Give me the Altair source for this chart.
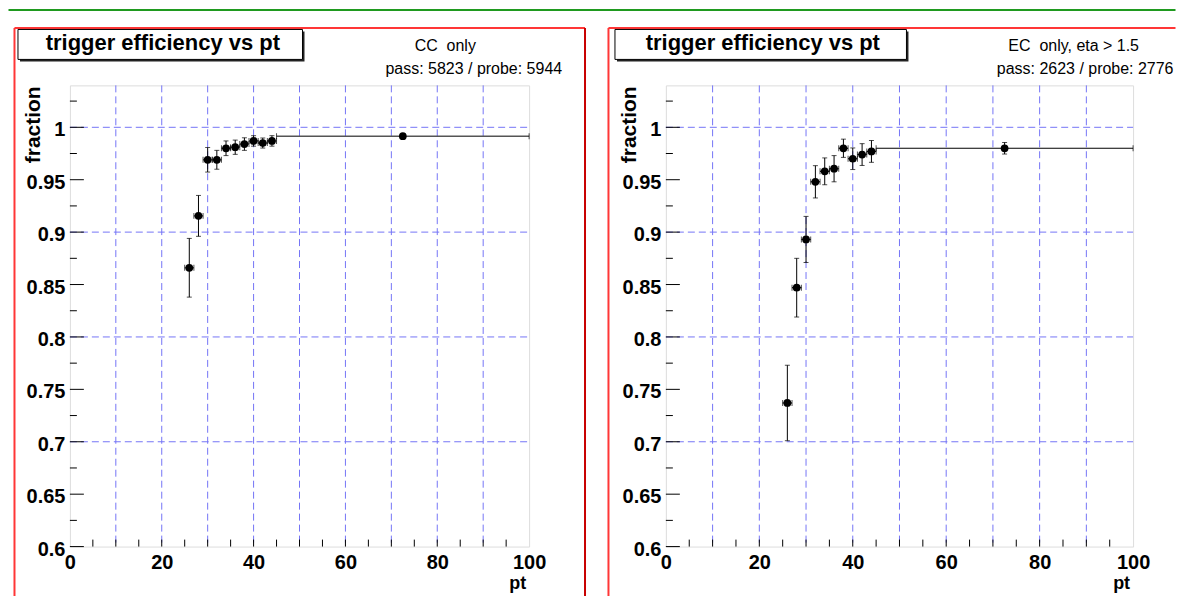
import altair as alt
import pandas as pd

# ---------------- data ----------------
pt_center = [26, 28, 30, 32, 34, 36, 38, 40, 42, 44, 72.5]
pt_low = [25, 27, 29, 31, 33, 35, 37, 39, 41, 43, 45]
pt_high = [27, 29, 31, 33, 35, 37, 39, 41, 43, 45, 100]

cc_eff = [0.866, 0.9155, 0.969, 0.969, 0.980, 0.981, 0.984, 0.987, 0.985, 0.987, 0.9915]
cc_err = [0.028, 0.0195, 0.0117, 0.009, 0.007, 0.0068, 0.006, 0.005, 0.0048, 0.005, 0.0015]

ec_eff = [0.737, 0.847, 0.893, 0.948, 0.958, 0.9605, 0.980, 0.970, 0.974, 0.977, 0.980]
ec_err = [0.036, 0.028, 0.022, 0.0154, 0.0128, 0.0125, 0.0087, 0.0103, 0.0104, 0.0104, 0.0055]

x_labels = [0, 20, 40, 60, 80, 100]
y_labels = [0.6, 0.65, 0.7, 0.75, 0.8, 0.85, 0.9, 0.95, 1.0]
y_minor = [0.625, 0.675, 0.725, 0.775, 0.825, 0.875, 0.925, 0.975, 1.025]
x_ticks = [5, 10, 15, 20, 25, 30, 35, 40, 45, 50, 55, 60, 65, 70, 75, 80, 85, 90, 95]
x_grid = [10, 20, 30, 40, 50, 60, 70, 80, 90]
y_grid = [0.7, 0.8, 0.9, 1.0]

titles = ["trigger efficiency vs pt", "trigger efficiency vs pt"]
notes = ["CC\u00a0 only", "EC\u00a0 only, eta > 1.5"]
counts = ["pass: 5823 / probe: 5944", "pass: 2623 / probe: 2776"]

FONT = "Liberation Sans"
GRID = "#7474f6"
one = pd.DataFrame({"k": [0]})


def deco_rule(x1, x2, y1, y2, color, width):
    return alt.Chart(one).mark_rule(color=color, strokeWidth=width).encode(
        x=alt.value(x1), x2=alt.value(x2), y=alt.value(y1), y2=alt.value(y2))


def deco_rect(x1, x2, y1, y2, **kw):
    return alt.Chart(one).mark_rect(**kw).encode(
        x=alt.value(x1), x2=alt.value(x2), y=alt.value(y1), y2=alt.value(y2))


def deco_text(txt, x, y, **kw):
    return alt.Chart(one).mark_text(text=txt, font=FONT, color="black", baseline="alphabetic", **kw).encode(
        x=alt.value(x), y=alt.value(y))


def panel(i, eff, err, W, H, g, bin_color, bin_width, extra=None):
    df = pd.DataFrame({
        "pt": pt_center, "lo": pt_low, "hi": pt_high, "eff": eff,
        "elo": [a - b for a, b in zip(eff, err)],
        "ehi": [a + b for a, b in zip(eff, err)],
    })
    xs = alt.Scale(domain=[0, 100], nice=False, zero=False)
    ys = alt.Scale(domain=[0.6, 1.04], nice=False, zero=False)
    xaxis = alt.Axis(values=x_labels, title="pt", grid=False, ticks=False, tickSize=0, domain=False,
                     labelFontSize=20, labelFontWeight="bold", labelFont=FONT, labelColor="black",
                     labelPadding=6, labelFlush=False, labelAngle=0,
                     titleFontSize=18, titleFontWeight="bold", titleFont=FONT, titleColor="black",
                     titleX=W - 3.5, titleY=42, titleAlign="right", titleBaseline="alphabetic",
                     titleAngle=0)
    yaxis = alt.Axis(values=y_labels, title="fraction", grid=False, ticks=False, tickSize=0, domain=False,
                     labelExpr="format(datum.value, '.2~f')",
                     labelFontSize=20, labelFontWeight="bold", labelFont=FONT, labelColor="black",
                     labelPadding=5, labelOffset=2.5, labelFlush=False,
                     titleFontSize=21, titleFontWeight="bold", titleFont=FONT, titleColor="black",
                     titleX=-30, titleY=0.5, titleAlign="right", titleBaseline="alphabetic",
                     titleAngle=270)

    def X(f):
        return alt.X(f, type="quantitative", scale=xs, axis=xaxis)

    def Y(f):
        return alt.Y(f, type="quantitative", scale=ys, axis=yaxis)

    layers = []
    if extra is not None:
        layers.append(extra)
    # pad borders (red bevel)
    layers.append(deco_rule(g["rl"], g["rl"], g["rt"], g["rb"], "#ff3636", 2))
    layers.append(deco_rule(g["rl"], g["rr"], g["rt"], g["rt"], "#ff3636", 2))
    if g.get("rr_line"):
        layers.append(deco_rule(g["rr"], g["rr"], g["rt"], g["rb"], "#c80000", 2))
    # title box with shadow
    bx1, bx2, by1, by2 = g["box"]
    layers.append(deco_rect(bx1 + 2, bx2 + 2, by1 + 2, by2 + 2, fill="#222222"))
    layers.append(deco_rect(bx1, bx2, by1, by2, fill="white", stroke="black", strokeWidth=1))
    layers.append(deco_text(titles[i], g["tx"], -35.5, fontSize=22, fontWeight="bold", align="center"))
    layers.append(deco_text(notes[i], g["nx"], -34.5, fontSize=16, align="center"))
    layers.append(deco_text(counts[i], g["cx"], -11.8, fontSize=16, align="right"))

    # grid
    xg = pd.DataFrame({"v": x_grid})
    yg = pd.DataFrame({"v": y_grid})
    layers.append(alt.Chart(xg).mark_rule(color=GRID, strokeWidth=1, strokeDash=[7, 4]).encode(
        x=X("v"), y=alt.value(0), y2=alt.value(H)))
    layers.append(alt.Chart(yg).mark_rule(color=GRID, strokeWidth=1, strokeDash=[7, 4]).encode(
        y=Y("v"), x=alt.value(0), x2=alt.value(W)))

    # inward ticks
    layers.append(alt.Chart(pd.DataFrame({"v": y_labels})).mark_rule(color="black").encode(
        y=Y("v"), x=alt.value(0), x2=alt.value(14)))
    layers.append(alt.Chart(pd.DataFrame({"v": y_minor})).mark_rule(color="black").encode(
        y=Y("v"), x=alt.value(0), x2=alt.value(7)))
    layers.append(alt.Chart(pd.DataFrame({"v": x_ticks})).mark_rule(color="black").encode(
        x=X("v"), y=alt.value(H), y2=alt.value(H - 7)))

    base = alt.Chart(df)
    # x error bars (bin widths)
    layers.append(base.mark_rule(color=bin_color, strokeWidth=bin_width).encode(
        x=X("lo"), x2="hi", y=Y("eff")))
    layers.append(base.mark_tick(orient="vertical", size=6, thickness=1, color="black").encode(
        x=X("lo"), y=Y("eff")))
    layers.append(base.mark_tick(orient="vertical", size=6, thickness=1, color="black").encode(
        x=X("hi"), y=Y("eff")))
    # y error bars
    layers.append(base.mark_rule(color="black", strokeWidth=1).encode(
        x=X("pt"), y=Y("elo"), y2="ehi"))
    layers.append(base.mark_tick(orient="horizontal", size=5, thickness=1, color="black").encode(
        x=X("pt"), y=Y("elo")))
    layers.append(base.mark_tick(orient="horizontal", size=5, thickness=1, color="black").encode(
        x=X("pt"), y=Y("ehi")))
    # markers
    layers.append(base.mark_point(filled=True, shape="circle", size=60, color="black", opacity=1).encode(
        x=X("pt"), y=Y("eff")))

    return alt.layer(*layers).properties(width=W, height=H)


# green canvas frame line (also anchors the page origin); kept inside the 1169px page width
green = deco_rect(-61.5, 1107.5, -76.5, -74.5, fill="#1f9a1f")

left = panel(0, cc_eff, cc_err, 460, 462,
             dict(rl=-55.5, rr=516, rt=-57.5, rb=511.5, rr_line=True,
                  box=(-52, 233, -56, -26), tx=93.1, nx=376, cx=493.1),
             "#555555", 1.5, extra=green)
right = panel(1, ec_eff, ec_err, 468, 462,
              dict(rl=-57.5, rr=510.5, rt=-57.5, rb=511.5, rr_line=False,
                   box=(-51, 241, -56, -26), tx=97.1, nx=408.5, cx=508.5),
              "black", 1.2)

chart = alt.hconcat(left, right, spacing=137, bounds="flush").properties(
    padding=0, background="white"
).configure_view(stroke="black", strokeWidth=1).configure(font=FONT)

chart.save("out.html", embed_options={"renderer": "svg", "actions": False})
